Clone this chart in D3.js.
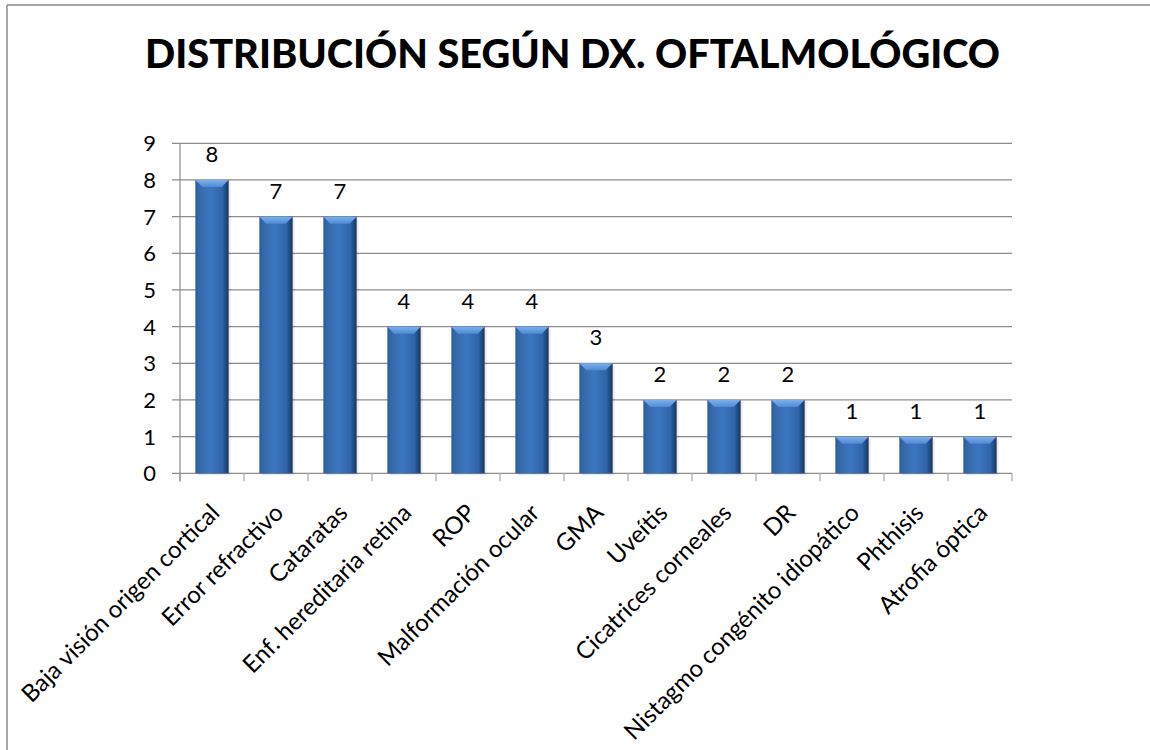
<!DOCTYPE html>
<html>
<head>
<meta charset="utf-8">
<script src="https://cdn.jsdelivr.net/npm/d3@7"></script>
<style>
  body { margin: 0; background: #fff; }
  text { font-family: Lato, "Open Sans", sans-serif; fill: #000; }
</style>
</head>
<body>
<div id="chart"></div>
<script>
const categories = ["Baja visión origen cortical", "Error refractivo", "Cataratas", "Enf. hereditaria retina",
    "ROP", "Malformación ocular", "GMA", "Uveítis", "Cicatrices corneales", "DR",
    "Nistagmo congénito idiopático", "Phthisis", "Atrofia óptica"];
const values = [8, 7, 7, 4, 4, 4, 3, 2, 2, 2, 1, 1, 1];
const yTicks = [0, 1, 2, 3, 4, 5, 6, 7, 8, 9];
const title = "DISTRIBUCIÓN SEGÚN DX. OFTALMOLÓGICO";

const W = 1150, H = 750;
const plot = { left: 180, right: 1012, top: 143.3, bottom: 473.3 };

const svg = d3.select("#chart")
    .append("svg")
    .attr("width", W)
    .attr("height", H);

const defs = svg.append("defs");
const grad = defs.append("linearGradient").attr("id", "barGrad")
    .attr("x1", "0%").attr("x2", "100%").attr("y1", "0%").attr("y2", "0%");
grad.append("stop").attr("offset", "0%").attr("stop-color", "#2b5c9c");
grad.append("stop").attr("offset", "12%").attr("stop-color", "#3569ad");
grad.append("stop").attr("offset", "45%").attr("stop-color", "#3b75c0");
grad.append("stop").attr("offset", "80%").attr("stop-color", "#3066a9");
grad.append("stop").attr("offset", "100%").attr("stop-color", "#17365f");

const bevel = defs.append("linearGradient").attr("id", "bevelGrad")
    .attr("x1", "0%").attr("x2", "0%").attr("y1", "0%").attr("y2", "100%");
bevel.append("stop").attr("offset", "0%").attr("stop-color", "#7cb0ec");
bevel.append("stop").attr("offset", "100%").attr("stop-color", "#4f8bd3");

// frame (only top and left edges are visible in the picture)
svg.append("line").attr("x1", 7).attr("x2", 7).attr("y1", 5).attr("y2", H)
    .attr("stroke", "#8a8a8a").attr("stroke-width", 1.5);
svg.append("line").attr("x1", 7).attr("x2", W).attr("y1", 5).attr("y2", 5)
    .attr("stroke", "#8a8a8a").attr("stroke-width", 1.5);

svg.append("text")
    .attr("x", 572.5)
    .attr("y", 68)
    .attr("text-anchor", "middle")
    .attr("textLength", 855)
    .attr("lengthAdjust", "spacingAndGlyphs")
    .style("font-size", "40px")
    .style("font-weight", "900")
    .text(title);

const x = d3.scaleBand()
    .domain(categories)
    .range([plot.left, plot.right])
    .paddingInner(0.48)
    .paddingOuter(0.24);

const y = d3.scaleLinear()
    .domain([0, 9])
    .range([plot.bottom, plot.top]);

// gridlines + y ticks
svg.append("g")
    .selectAll("line")
    .data(yTicks)
    .join("line")
    .attr("x1", plot.left - 8)
    .attr("x2", plot.right)
    .attr("y1", d => y(d))
    .attr("y2", d => y(d))
    .attr("stroke", "#8c8c8c")
    .attr("stroke-width", 1.2);

svg.append("g")
    .selectAll("text")
    .data(yTicks)
    .join("text")
    .attr("x", plot.left - 24)
    .attr("y", d => y(d))
    .attr("dy", "0.36em")
    .attr("text-anchor", "end")
    .style("font-size", "22px")
    .text(d => d);

// x axis ticks at band boundaries
const step = x.step();
const bounds = d3.range(categories.length + 1).map(i => plot.left + i * step);
svg.append("g")
    .selectAll("line")
    .data(bounds)
    .join("line")
    .attr("x1", d => d)
    .attr("x2", d => d)
    .attr("y1", plot.bottom)
    .attr("y2", plot.bottom + 8)
    .attr("stroke", "#a6a6a6")
    .attr("stroke-width", 1.2);

// y axis line
svg.append("line")
    .attr("x1", plot.left).attr("x2", plot.left)
    .attr("y1", plot.top).attr("y2", plot.bottom + 8)
    .attr("stroke", "#8c8c8c").attr("stroke-width", 1.2);

// bars
const bars = svg.append("g")
    .selectAll("g")
    .data(categories.map((c, i) => ({ c, v: values[i] })))
    .join("g");

bars.append("rect")
    .attr("x", d => x(d.c) + 2)
    .attr("y", d => y(d.v) + 2)
    .attr("width", x.bandwidth())
    .attr("height", d => y(0) - y(d.v))
    .attr("fill", "#000")
    .attr("opacity", 0.08);

bars.append("rect")
    .attr("x", d => x(d.c))
    .attr("y", d => y(d.v))
    .attr("width", x.bandwidth())
    .attr("height", d => y(0) - y(d.v))
    .attr("fill", "url(#barGrad)");

bars.append("polygon")
    .attr("points", d => {
        const x0 = x(d.c), x1 = x0 + x.bandwidth(), t = y(d.v);
        return [[x0, t], [x1, t], [x1 - 7, t + 7], [x0 + 7, t + 7]].join(" ");
    })
    .attr("fill", "url(#bevelGrad)");

bars.append("text")
    .attr("x", d => x(d.c) + x.bandwidth() / 2)
    .attr("y", d => y(d.v) - 18)
    .attr("text-anchor", "middle")
    .style("font-size", "22px")
    .text(d => d.v);

// category labels
svg.append("g")
    .selectAll("text")
    .data(categories)
    .join("text")
    .attr("text-anchor", "end")
    .attr("transform", d => `translate(${x(d) + x.bandwidth() / 2 + 9},${plot.bottom + 41}) rotate(-45)`)
    .style("font-size", "24px")
    .text(d => d);
</script>
</body>
</html>
